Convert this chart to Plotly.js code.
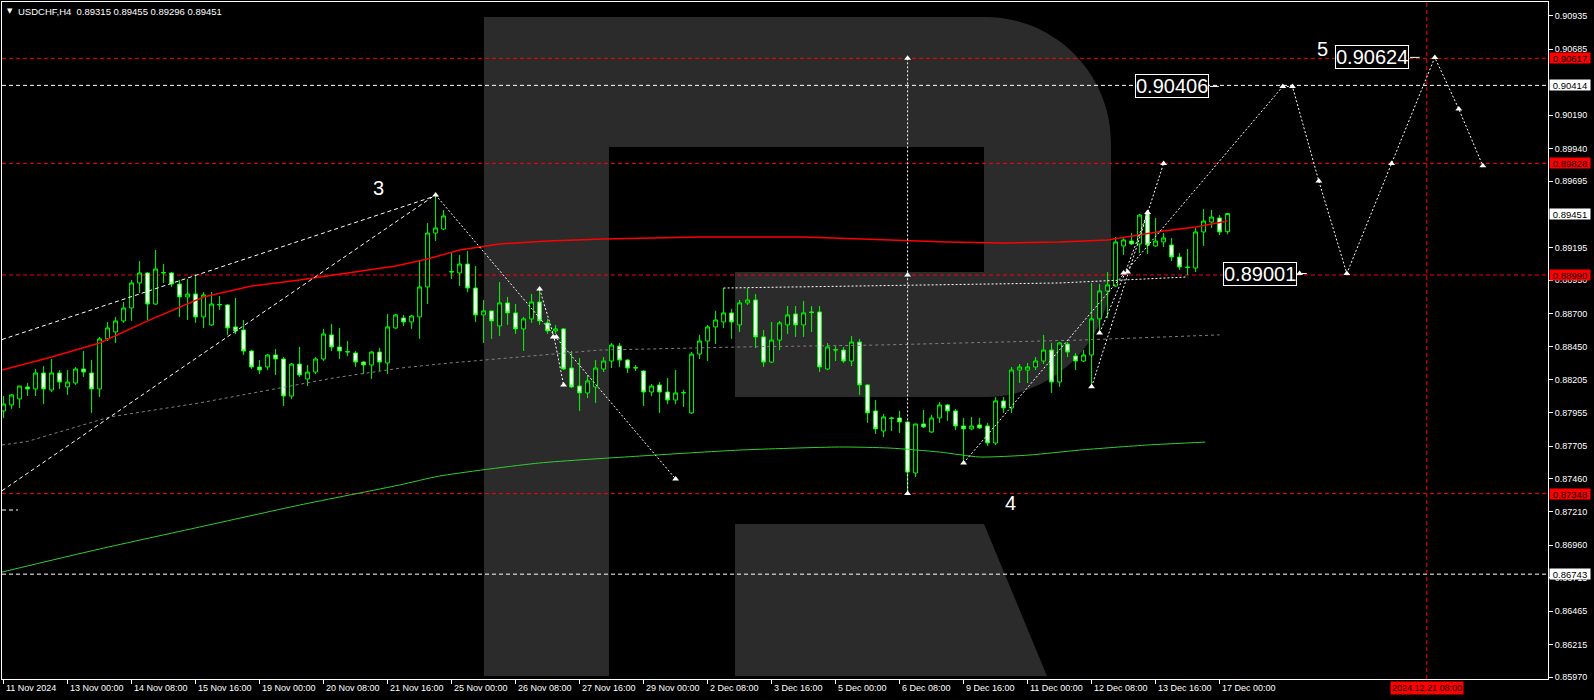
<!DOCTYPE html>
<html><head><meta charset="utf-8">
<script src="https://cdn.plot.ly/plotly-3.0.1.min.js"></script>
<style>html,body{margin:0;padding:0;background:#000;}#chart{width:1594px;height:700px;}</style>
</head><body><div id="chart"></div>
<script>
// ---------------- DATA (USDCHF H4) ----------------
const open = [0.87969,0.88014,0.88059,0.88149,0.88134,0.88254,0.88126,0.88254,0.88149,0.88179,
0.88284,0.88254,0.88134,0.88510,0.88562,0.88645,0.88742,0.88930,0.89005,0.88772,
0.89005,0.89005,0.88922,0.88825,0.88847,0.88675,0.88615,0.88765,0.88765,0.88600,
0.88577,0.88419,0.88299,0.88299,0.88389,0.88359,0.88081,0.88321,0.88209,0.88261,
0.88359,0.88540,0.88449,0.88411,0.88404,0.88336,0.88314,0.88411,0.88329,0.88592,
0.88667,0.88637,0.88675,0.88900,0.89305,0.89335,0.89012,0.89005,0.89072,0.88892,
0.88690,0.88720,0.88607,0.88780,0.88705,0.88585,0.88660,0.88787,0.88630,0.88570,
0.88585,0.88291,0.88156,0.88104,0.88149,0.88284,0.88344,0.88456,0.88351,0.88291,
0.88269,0.88111,0.88164,0.88111,0.88051,0.88104,0.87954,0.88396,0.88494,0.88600,
0.88637,0.88705,0.88615,0.88780,0.88802,0.88525,0.88336,0.88501,0.88615,0.88697,
0.88615,0.88712,0.88712,0.88284,0.88426,0.88426,0.88344,0.88486,0.88164,0.87969,
0.87818,0.87916,0.87916,0.87886,0.87503,0.87871,0.87811,0.87916,0.88014,0.87969,
0.87856,0.87834,0.87864,0.87856,0.87728,0.88044,0.87991,0.88276,0.88276,0.88299,
0.88344,0.88426,0.88186,0.88471,0.88381,0.88344,0.88389,0.88660,0.88870,0.88907,
0.89208,0.89245,0.89223,0.89455,0.89208,0.89238,0.89215,0.89125,0.89050,0.89042,
0.89313,0.89388,0.89418,0.89315];
const high = [0.88081,0.88096,0.88156,0.88179,0.88284,0.88306,0.88359,0.88276,0.88276,0.88299,
0.88419,0.88351,0.88525,0.88637,0.88675,0.88787,0.88952,0.89095,0.89012,0.89178,
0.89072,0.89012,0.88952,0.88960,0.88997,0.88862,0.88862,0.88832,0.88772,0.88817,
0.88652,0.88426,0.88351,0.88396,0.88434,0.88374,0.88329,0.88449,0.88314,0.88374,
0.88585,0.88622,0.88592,0.88494,0.88419,0.88344,0.88419,0.88441,0.88697,0.88697,
0.88690,0.88690,0.89102,0.89380,0.89591,0.89478,0.89155,0.89140,0.89170,0.89057,
0.88802,0.88720,0.88937,0.88825,0.88772,0.88675,0.88847,0.88877,0.88660,0.88615,
0.88592,0.88419,0.88366,0.88239,0.88351,0.88374,0.88479,0.88479,0.88359,0.88314,
0.88276,0.88171,0.88186,0.88216,0.88276,0.88126,0.88411,0.88540,0.88615,0.88720,
0.88892,0.88735,0.88802,0.88892,0.88847,0.88577,0.88637,0.88645,0.88757,0.88757,
0.88795,0.88757,0.88757,0.88479,0.88456,0.88449,0.88532,0.88510,0.88171,0.88051,
0.87946,0.87924,0.87969,0.87894,0.87871,0.87976,0.87939,0.88036,0.88021,0.87984,
0.87916,0.87924,0.87916,0.87879,0.88074,0.88074,0.88299,0.88321,0.88329,0.88374,
0.88540,0.88479,0.88486,0.88486,0.88404,0.88426,0.88930,0.88922,0.89012,0.89275,
0.89275,0.89305,0.89448,0.89478,0.89418,0.89305,0.89268,0.89155,0.89185,0.89343,
0.89485,0.89478,0.89440,0.89455];
const low = [0.87916,0.87984,0.87991,0.88081,0.88081,0.88021,0.88111,0.88134,0.88089,0.88164,
0.88224,0.87954,0.88074,0.88494,0.88479,0.88630,0.88645,0.88855,0.88652,0.88765,
0.88930,0.88900,0.88675,0.88652,0.88630,0.88592,0.88607,0.88727,0.88540,0.88547,
0.88389,0.88284,0.88246,0.88276,0.88239,0.88006,0.88059,0.88224,0.88156,0.88246,
0.88344,0.88419,0.88359,0.88381,0.88299,0.88246,0.88209,0.88269,0.88246,0.88585,
0.88607,0.88585,0.88510,0.88772,0.89245,0.89328,0.88960,0.88907,0.88862,0.88637,
0.88479,0.88510,0.88532,0.88615,0.88547,0.88419,0.88630,0.88615,0.88547,0.88547,
0.88276,0.88141,0.87969,0.88066,0.88029,0.88261,0.88291,0.88299,0.88254,0.88269,
0.88006,0.88081,0.87954,0.88021,0.88021,0.87999,0.87946,0.88359,0.88344,0.88471,
0.88592,0.88510,0.88562,0.88765,0.88441,0.88299,0.88329,0.88426,0.88547,0.88525,
0.88525,0.88562,0.88261,0.88276,0.88344,0.88329,0.88306,0.88089,0.87879,0.87796,
0.87773,0.87818,0.87803,0.87348,0.87473,0.87841,0.87803,0.87879,0.87894,0.87825,
0.87578,0.87825,0.87834,0.87705,0.87713,0.87954,0.87954,0.88179,0.88179,0.88276,
0.88321,0.88104,0.88149,0.88374,0.88276,0.88336,0.88141,0.88555,0.88667,0.88900,
0.89140,0.89215,0.89155,0.89148,0.89200,0.89200,0.89095,0.89027,0.88990,0.89012,
0.89208,0.89343,0.89290,0.89296];
const close = [0.88021,0.88089,0.88156,0.88134,0.88254,0.88134,0.88254,0.88186,0.88186,0.88284,
0.88261,0.88134,0.88510,0.88592,0.88645,0.88742,0.88930,0.89005,0.88772,0.89035,
0.89008,0.88922,0.88825,0.88847,0.88675,0.88840,0.88772,0.88768,0.88592,0.88570,
0.88419,0.88299,0.88276,0.88389,0.88359,0.88081,0.88321,0.88239,0.88261,0.88359,
0.88547,0.88449,0.88419,0.88414,0.88336,0.88314,0.88411,0.88336,0.88600,0.88690,
0.88637,0.88682,0.88900,0.89305,0.89343,0.89433,0.89015,0.89072,0.88892,0.88690,
0.88720,0.88645,0.88780,0.88705,0.88585,0.88660,0.88787,0.88645,0.88570,0.88585,
0.88284,0.88149,0.88104,0.88194,0.88291,0.88344,0.88464,0.88351,0.88291,0.88294,
0.88111,0.88156,0.88111,0.88051,0.88104,0.88107,0.88396,0.88494,0.88600,0.88652,
0.88705,0.88637,0.88780,0.88802,0.88525,0.88336,0.88501,0.88630,0.88690,0.88615,
0.88705,0.88709,0.88299,0.88449,0.88429,0.88344,0.88486,0.88164,0.87954,0.87834,
0.87924,0.87913,0.87886,0.87510,0.87871,0.87849,0.87916,0.88014,0.87969,0.87856,
0.87834,0.87856,0.87841,0.87728,0.88044,0.87991,0.88276,0.88299,0.88299,0.88344,
0.88426,0.88186,0.88479,0.88411,0.88344,0.88389,0.88660,0.88870,0.88915,0.89238,
0.89253,0.89223,0.89440,0.89215,0.89245,0.89268,0.89125,0.89050,0.89047,0.89313,
0.89395,0.89425,0.89313,0.89451];

// moving averages (bar index -> price), read at sample bars
const maRedBar   = [-0.2,6,12,18,25,31,37,43,49,53,57,62,68,75,87,100,110,118,125,132,138,141,145,149,153];
const maRedVal   = [0.88276,0.88374,0.88479,0.88645,0.88825,0.88907,0.88952,0.89005,0.89057,0.89110,0.89178,0.89223,0.89245,0.89260,0.89275,0.89275,0.89253,0.89238,0.89230,0.89238,0.89253,0.89283,0.89320,0.89350,0.89395];
const maGrayBar  = [-0.2,3,13.3,24.5,31.2,41.2,49.6,55.8,74.5,92,109.5,134.5,152];
const maGrayVal  = [0.87713,0.87740,0.87924,0.88029,0.88104,0.88216,0.88291,0.88329,0.88426,0.88449,0.88464,0.88501,0.88540];
const maGreenBar = [-0.2,12,24.5,37,49.5,54.5,67,79.5,92,104.5,110.8,117,122,128.3,134.5,143,150.2];
const maGreenVal = [0.86759,0.86932,0.87097,0.87262,0.87413,0.87480,0.87578,0.87630,0.87675,0.87698,0.87690,0.87660,0.87623,0.87638,0.87675,0.87713,0.87735];

// time axis labels
const tickIdx  = [0,8,16,24,32,40,48,56,64,72,80,88,96,104,112,120,128,136,144,152];
const tickText = ['11 Nov 2024','13 Nov 00:00','14 Nov 08:00','15 Nov 16:00','19 Nov 00:00','20 Nov 08:00','21 Nov 16:00','25 Nov 00:00','26 Nov 08:00','27 Nov 16:00','29 Nov 00:00','2 Dec 08:00','3 Dec 16:00','5 Dec 00:00','6 Dec 08:00','9 Dec 16:00','11 Dec 00:00','12 Dec 08:00','13 Dec 16:00','17 Dec 00:00'];
const futureBar = 177.9, futureLabel = '2024.12.21 08:00';

// price axis
const yTicks = [0.90935,0.90685,0.90190,0.89940,0.89695,0.89195,0.88950,0.88700,0.88450,0.88205,0.87955,0.87705,0.87460,0.87210,0.86960,0.86715,0.86465,0.86215,0.85970];
const tagPrices = [0.90617,0.90414,0.89828,0.89451,0.88990,0.87348,0.86743];
const tagKinds  = ['red','white','red','white','red','red','white'];
const levelPrices = [0.90617,0.90414,0.89828,0.88990,0.87348,0.86743];
const levelKinds  = ['red','white','red','red','red','white'];

// wave / trend lines (bar index, price)
const chanBar = [-0.2,53.6,null,-0.2,53.6,null,-0.2,1.8];
const chanVal = [0.88505,0.89576,null,0.87370,0.89576,null,0.87225,0.87225];
const waveBar = [54,84,null,67,68.8,70,null,113,113,null,90,132,148,null,120,159.9,null,136,145,null,137,140.2,143,null,159.9,161.1,164.4,167.9,173.5,178.9,181.9,184.9];
const waveVal = [0.89591,0.87458,null,0.88885,0.88525,0.88164,null,0.90617,0.87348,null,0.88892,0.88930,0.88975,null,0.87578,0.90406,null,0.88150,0.89828,null,0.88555,0.89008,0.89460,null,0.90406,0.90406,0.89696,0.89001,0.89828,0.90624,0.90236,0.89810];
const markBar = [54,67,68.7,69.1,70,84,113,113,113,120,136,137,140,140.5,143,145,159.9,161.1,162,164.4,167.9,173.5,178.9,181.9,184.9];
const markVal = [0.89591,0.88885,0.88525,0.88525,0.88164,0.87458,0.90617,0.88990,0.87348,0.87578,0.88150,0.88555,0.89005,0.89012,0.89460,0.89828,0.90406,0.90406,0.89001,0.89696,0.89001,0.89828,0.90624,0.90236,0.89810];

// text labels
const boxLabels = [{t:'0.90406', bar:146, p:0.90406, dash:[150.8,151.9]},
                   {t:'0.90624', bar:171, p:0.90624, dash:[175.8,177.0]},
                   {t:'0.89001', bar:157.1, p:0.89001, dash:[162.0,162.9]}];
const waveNames = [{t:'3', bar:46.9, p:0.89643},{t:'4', bar:125.9, p:0.87278},{t:'5', bar:164.9, p:0.90690}];
const headerText = 'USDCHF,H4  0.89315 0.89455 0.89296 0.89451';

// ---------------- DRAW ----------------
const FONT = 'Liberation Sans, Arial, sans-serif';
const W = 1594, H = 700, ML = 2, MR = 46, MT = 2, MB = 21;
const PW = W - ML - MR, PH = H - MT - MB;
const px = x => ((x - ML) / PW).toFixed(5);
const py = y => ((H - MB - y) / PH).toFixed(5);
const pt = (x, y) => px(x) + ',' + py(y);
const RED = '#ff0000', GREEN = '#00ff00';
const bars = open.map((_, i) => i);

const traces = [
  {type:'scatter', mode:'lines', x:maGreenBar, y:maGreenVal, line:{color:'#32cd32', width:1, shape:'spline', smoothing:0.6}},
  {type:'scatter', mode:'lines', x:maGrayBar, y:maGrayVal, line:{color:'#808080', width:1, dash:'3px,3px'}},
  {type:'scatter', mode:'lines', x:maRedBar, y:maRedVal, line:{color:RED, width:1.5}},
  {type:'scatter', mode:'lines', x:chanBar, y:chanVal, connectgaps:false, line:{color:'#ffffff', width:1, dash:'4px,3px'}},
  {type:'scatter', mode:'lines', x:waveBar, y:waveVal, connectgaps:false, line:{color:'#ffffff', width:1, dash:'2px,2px'}},
  {type:'candlestick', x:bars, open:open, high:high, low:low, close:close,
   whiskerwidth:0,
   increasing:{line:{color:GREEN, width:1}, fillcolor:'#000000'},
   decreasing:{line:{color:GREEN, width:1}, fillcolor:'#ffffff'}},
  {type:'scatter', mode:'markers', x:markBar, y:markVal, marker:{symbol:'triangle-up', size:6, color:'#ffffff'}}
];

const shapes = [];
// RoboForex "R" watermark (decoration)
const rPath = 'M' + pt(484,17) + ' L' + pt(985,17) +
  ' C' + pt(1054.6,17) + ' ' + pt(1111,73.4) + ' ' + pt(1111,143) +
  ' L' + pt(1111,271) +
  ' C' + pt(1111,340.6) + ' ' + pt(1054.6,397) + ' ' + pt(985,397) +
  ' L' + pt(735,397) + ' L' + pt(735,272) + ' L' + pt(984,272) + ' L' + pt(984,147) +
  ' L' + pt(609,147) + ' L' + pt(609,676) + ' L' + pt(484,676) + ' Z' +
  ' M' + pt(735,524) + ' L' + pt(984,524) + ' L' + pt(1047,676) + ' L' + pt(735,676) + ' Z';
shapes.push({type:'path', xref:'paper', yref:'paper', path:rPath, fillcolor:'#2b2b2b', line:{width:0}, layer:'below'});
levelPrices.forEach((p, k) => shapes.push({type:'line', xref:'paper', yref:'y', x0:0, x1:1, y0:p, y1:p, layer:'below',
  line:{color: levelKinds[k] === 'red' ? RED : '#ffffff', width:1, dash:'4px,3px'}}));
shapes.push({type:'line', xref:'x', yref:'paper', x0:futureBar, x1:futureBar, y0:0, y1:1, layer:'below', line:{color:RED, width:1, dash:'4px,3px'}});
boxLabels.forEach(b => shapes.push({type:'line', xref:'x', yref:'y', x0:b.dash[0], x1:b.dash[1], y0:b.p, y1:b.p, line:{color:'#ffffff', width:1}}));

const annotations = [];
annotations.push({xref:'paper', yref:'paper', x:0, y:1, xanchor:'left', yanchor:'middle', xshift:3, yshift:-9, showarrow:false,
  text:'▼', font:{family:'DejaVu Sans', size:7, color:'#ffffff'}});
annotations.push({xref:'paper', yref:'paper', x:0, y:1, xanchor:'left', yanchor:'middle', xshift:14, yshift:-9, showarrow:false,
  text:headerText, font:{family:FONT, size:9.5, color:'#ffffff'}});
tickIdx.forEach((b, k) => annotations.push({xref:'x', yref:'paper', x:b, y:0, xanchor:'left', yanchor:'top', xshift:0, yshift:-2,
  showarrow:false, text:tickText[k], font:{family:FONT, size:9, color:'#ffffff'}}));
annotations.push({xref:'x', yref:'paper', x:futureBar, y:0, xanchor:'center', yanchor:'top', yshift:-2, showarrow:false,
  text:futureLabel, bgcolor:RED, borderpad:1, font:{family:FONT, size:9, color:'#000000'}});
tagPrices.forEach((p, k) => annotations.push({xref:'paper', yref:'y', x:1, y:p, xanchor:'left', yanchor:'middle', xshift:1,
  showarrow:false, text:p.toFixed(5), bgcolor: tagKinds[k] === 'red' ? RED : '#ffffff', width:40, height:10, borderpad:0,
  font:{family:FONT, size:9.5, color:'#000000'}}));
boxLabels.forEach(b => annotations.push({xref:'x', yref:'y', x:b.bar, y:b.p, xanchor:'center', yanchor:'middle', showarrow:false,
  text:b.t, bgcolor:'#000000', bordercolor:'#ffffff', borderwidth:1, borderpad:0, font:{family:FONT, size:20, color:'#ffffff'}}));
waveNames.forEach(w => annotations.push({xref:'x', yref:'y', x:w.bar, y:w.p, xanchor:'center', yanchor:'middle', showarrow:false,
  text:w.t, font:{family:FONT, size:20, color:'#ffffff'}}));

const layout = {
  width:W, height:H, margin:{l:ML, r:MR, t:MT, b:MB, pad:0},
  paper_bgcolor:'#000000', plot_bgcolor:'#000000', showlegend:false, hovermode:false,
  font:{family:FONT, size:9, color:'#ffffff'},
  xaxis:{range:[-0.2,193.05], showgrid:false, zeroline:false, showline:true, linecolor:'#ffffff', linewidth:1, mirror:true,
         ticks:'outside', ticklen:4, tickcolor:'#ffffff', tickvals:tickIdx, showticklabels:false, rangeslider:{visible:false}},
  yaxis:{range:[0.859557,0.910400], side:'right', showgrid:false, zeroline:false, showline:true, linecolor:'#ffffff', linewidth:1, mirror:true,
         ticks:'outside', ticklen:4, tickcolor:'#ffffff', tickvals:yTicks, ticktext:yTicks.map(v => v.toFixed(5)),
         tickfont:{family:FONT, size:9, color:'#ffffff'}},
  shapes:shapes, annotations:annotations
};
Plotly.newPlot('chart', traces, layout, {staticPlot:true, displayModeBar:false});
</script></body></html>
